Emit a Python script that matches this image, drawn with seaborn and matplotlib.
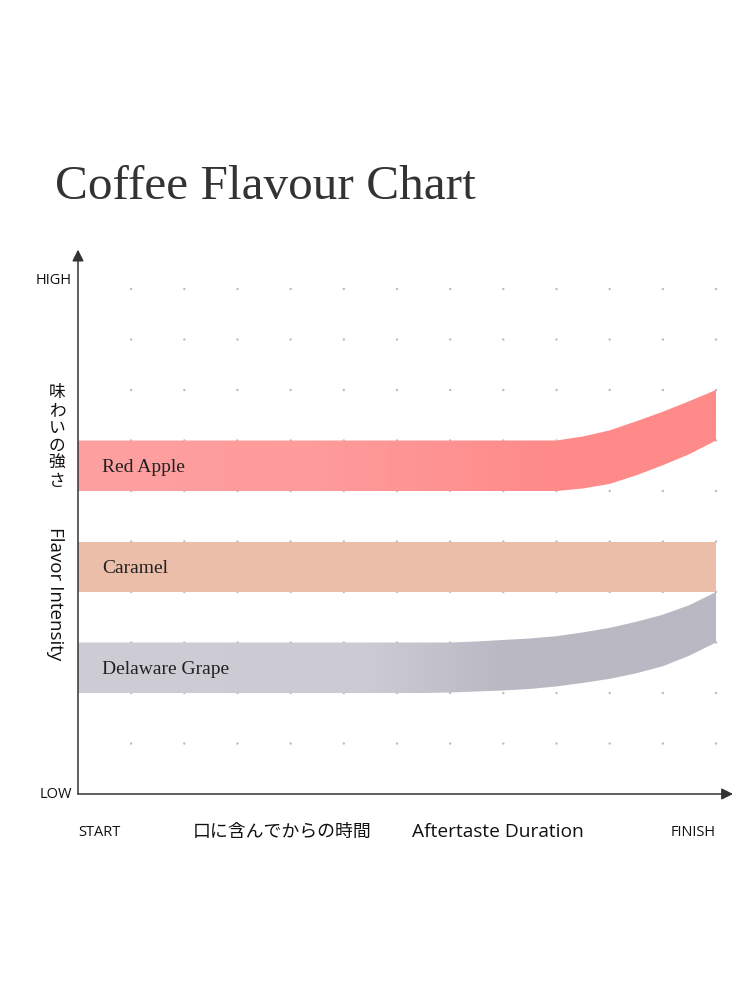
import seaborn as sns
import matplotlib.pyplot as plt
import numpy as np
import pandas as pd
from matplotlib.colors import LinearSegmentedColormap

# time axis (grid units, START=0 .. FINISH=12)
time = [0, 1, 2, 3, 4, 5, 6, 6.5, 7, 7.5, 8, 8.5, 9, 9.5, 10, 10.5, 11, 11.5, 12]

apple_low = [6, 6, 6, 6, 6, 6, 6, 6, 6, 6, 6, 6, 6.0, 6.05, 6.14, 6.31, 6.51, 6.73, 7.0]
apple_high = [7, 7, 7, 7, 7, 7, 7, 7, 7, 7, 7, 7, 7.0, 7.08, 7.2, 7.38, 7.57, 7.78, 8.0]

caramel_low = [4] * len(time)
caramel_high = [5] * len(time)

grape_low = [2, 2, 2, 2, 2, 2, 2, 2.0, 2.01, 2.03, 2.05, 2.08, 2.13, 2.2, 2.28, 2.39, 2.53, 2.74, 3.0]
grape_high = [3, 3, 3, 3, 3, 3, 3, 3.0, 3.0, 3.02, 3.05, 3.08, 3.125, 3.2, 3.29, 3.41, 3.55, 3.74, 4.0]

flavours = ['Red Apple', 'Caramel', 'Delaware Grape']

sns.set_theme(style='white')
plt.rcParams['font.family'] = ['Open Sans', 'Noto Sans CJK JP', 'DejaVu Sans']

fig = plt.figure(figsize=(7.5, 10), dpi=100)
ax = fig.add_axes([78 / 750, 206 / 1000, 638 / 750, 505 / 1000])

# dotted grid
gx, gy = np.meshgrid(np.arange(1, 13), np.arange(1, 11))
grid = pd.DataFrame({'x': gx.ravel(), 'y': gy.ravel()})
sns.scatterplot(data=grid, x='x', y='y', ax=ax, s=3, color='#bdbdbd',
                edgecolor='none', zorder=1, legend=False, clip_on=False)


def band(lo, hi, stops, label):
    poly = ax.fill_between(time, lo, hi, facecolor='none', edgecolor='none')
    cmap = LinearSegmentedColormap.from_list(label, [(p / 12, c) for p, c in stops])
    grad = np.linspace(0, 1, 400).reshape(1, -1)
    im = ax.imshow(grad, cmap=cmap, aspect='auto', extent=(0, 12, min(lo), max(hi)),
                   origin='lower', zorder=2, interpolation='bilinear')
    im.set_clip_path(poly.get_paths()[0], transform=ax.transData)
    ax.text(0.45, (lo[0] + hi[0]) / 2 - 0.13, label, ha='left', va='baseline',
            fontsize=14, family='Liberation Serif', color='#222', zorder=3)


band(apple_low, apple_high,
     [(0, '#ffa0a0'), (4.5, '#fe9b9b'), (9, '#ff8a8a'), (12, '#ff8a8a')], flavours[0])
band(caramel_low, caramel_high,
     [(0, '#ebbea9'), (12, '#ebbea9')], flavours[1])
band(grape_low, grape_high,
     [(0, '#cecdd5'), (5.5, '#cccad3'), (8, '#bab8c3'), (12, '#bab8c3')], flavours[2])

ax.set_xlim(0, 12)
ax.set_ylim(0, 10)
ax.axis('off')

# axes with arrows
arrow = dict(arrowstyle='-|>', color='#333', lw=1.1, mutation_scale=17,
             shrinkA=0, shrinkB=0)
ax.annotate('', xy=(12.32, 0), xytext=(0, 0), arrowprops=arrow, annotation_clip=False)
ax.annotate('', xy=(0, 10.78), xytext=(0, 0), arrowprops=arrow, annotation_clip=False)

fig.text(55 / 750, 1 - 187 / 1000, 'Coffee Flavour Chart', ha='left', va='center',
         fontsize=35.5, family='Liberation Serif', color='#333')

fig.text(72 / 750, 1 - 280 / 1000, 'HIGH', ha='right', va='center', fontsize=10.5, color='#111')
fig.text(72 / 750, 1 - 795 / 1000, 'LOW', ha='right', va='center', fontsize=10.5, color='#111')
fig.text(57 / 750, 1 - 437 / 1000, '\n'.join('味わいの強さ'), ha='center', va='center',
         fontsize=12, linespacing=1.05, family=['Noto Sans CJK JP'], color='#111')
fig.text(55 / 750, 1 - 594 / 1000, 'Flavor Intensity', ha='center', va='center',
         rotation=270, fontsize=13.5, color='#111')

fig.text(78 / 750, 0.168, 'START', ha='left', va='center', fontsize=10.5, color='#111')
fig.text(193 / 750, 0.168, '口に含んでからの時間', ha='left', va='center', fontsize=12.9,
         family=['Noto Sans CJK JP'], color='#111')
fig.text(412 / 750, 0.168, 'Aftertaste Duration', ha='left', va='center', fontsize=13.8,
         color='#111')
fig.text(716 / 750, 0.168, 'FINISH', ha='right', va='center', fontsize=10.5, color='#111')

plt.savefig('out.png', dpi=100)
